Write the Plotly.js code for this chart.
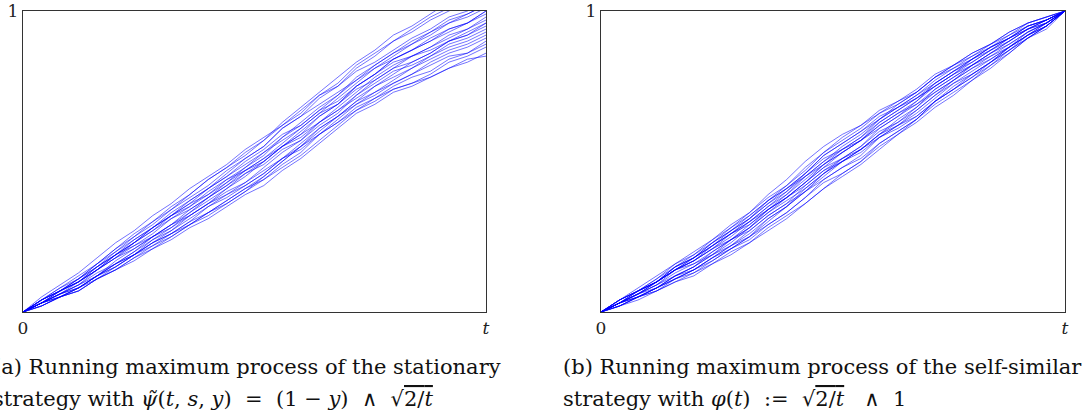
<!DOCTYPE html>
<html>
<head>
<meta charset="utf-8">
<script src="https://cdn.plot.ly/plotly-3.0.1.min.js"></script>
<style>
  html, body { margin: 0; padding: 0; background: #ffffff; }
  #chart { width: 1088px; height: 415px; }
</style>
</head>
<body>
<div id="chart"></div>
<script>
// time grid (in hundredths of the horizon t)
const tGrid = [0,4,8,12,16,20,24,28,32,36,40,44,48,52,56,60,64,68,72,76,80,84,88,92,96,100];

// (a) stationary strategy: running maximum paths (values in hundredths, axis top = 1)
const pathsA = [
  [0,5,9,13,18,23,27,32,36,41,45,49,54,58,62,66,72,76,82,86,90,94,98,101,104,107],
  [0,4,8,12,16,21,26,30,35,39,44,48,52,57,62,67,72,75,80,83,87,91,94,98,100,103],
  [0,4,7,11,16,20,25,29,34,38,42,47,51,55,61,65,69,73,77,82,86,89,93,96,99,102],
  [0,4,7,10,15,19,24,28,32,37,41,45,50,54,59,62,67,72,77,81,84,87,91,94,96,100],
  [0,3,7,10,14,19,23,27,32,36,39,43,48,52,58,62,67,70,75,79,84,87,90,93,96,99],
  [0,4,7,11,15,19,22,26,31,35,40,44,47,51,55,59,65,69,75,79,83,85,88,92,94,98],
  [0,3,6,10,14,18,23,27,31,34,38,42,47,51,56,61,66,69,74,77,81,85,88,91,94,97],
  [0,3,7,10,14,18,22,25,29,34,38,43,47,50,55,58,63,68,73,78,82,85,87,90,93,96],
  [0,3,6,9,14,18,21,25,29,32,36,41,45,50,55,59,63,67,72,77,81,83,86,90,92,95],
  [0,3,6,9,13,16,20,25,29,33,38,42,46,49,54,57,62,66,72,76,80,82,85,89,91,94],
  [0,3,5,8,12,17,21,25,28,32,36,39,43,48,53,57,63,67,71,75,78,81,85,88,90,93],
  [0,3,6,8,12,16,19,23,27,32,36,40,43,47,51,55,61,65,70,73,77,81,84,87,89,92],
  [0,2,5,8,11,15,19,22,26,30,35,39,42,46,51,54,59,64,69,72,76,79,83,86,88,91],
  [0,3,5,8,12,15,19,23,26,30,33,37,41,44,49,53,59,63,68,71,75,78,80,84,86,90],
  [0,2,5,7,11,14,18,22,25,29,33,36,40,44,48,52,57,62,67,70,74,76,79,83,85,88],
  [0,2,5,7,11,14,17,21,24,28,31,35,39,42,47,51,56,61,66,69,73,75,78,81,83,86],
  [0,3,6,8,12,16,19,23,26,29,33,37,41,45,50,55,59,63,67,71,74,76,78,81,84,85],
  [0,4,8,11,16,21,25,30,34,39,44,48,53,57,63,68,73,78,83,87,92,95,99,103,105,108],
  [0,4,7,11,15,20,24,28,33,37,41,46,51,55,61,65,71,75,81,85,90,93,97,100,103,106],
  [0,3,7,10,15,19,23,28,32,36,41,45,49,53,57,61,66,71,76,81,85,89,92,96,98,101],
  [0,2,5,8,12,15,19,24,28,33,37,41,46,50,55,60,65,69,75,79,84,87,90,94,96,100],
  [0,3,5,7,11,14,18,21,25,29,32,36,40,45,50,55,60,65,70,75,79,83,86,90,92,96],
  [0,3,6,9,12,16,20,24,27,31,35,38,42,46,51,56,61,65,69,73,76,79,82,85,86,89],
  [0,4,7,10,14,19,23,28,32,35,39,44,48,53,58,63,68,72,78,82,86,90,93,97,99,102]
];

// (b) self-similar strategy: running maximum paths (values in hundredths)
const pathsB = [
  [0,4,8,12,16,20,24,29,33,39,44,50,55,59,62,67,70,74,79,82,86,89,92,96,98,100],
  [0,4,7,11,16,19,24,28,33,38,42,48,53,58,62,66,70,73,78,82,85,89,93,96,98,100],
  [0,4,7,10,15,18,23,27,31,37,41,46,52,56,60,65,68,72,77,81,84,88,91,95,97,100],
  [0,3,7,10,14,18,22,26,31,36,40,46,51,54,58,64,68,71,76,80,84,87,91,94,97,100],
  [0,3,6,10,14,17,22,26,30,35,40,45,49,53,57,63,67,71,75,79,83,87,90,94,97,100],
  [0,4,7,10,14,17,21,26,30,34,38,43,49,53,57,61,65,70,75,79,82,86,90,94,96,100],
  [0,3,6,9,14,17,21,24,28,34,38,43,48,51,55,61,65,69,73,77,82,86,89,93,96,100],
  [0,3,6,9,13,16,19,23,28,33,37,41,46,51,55,60,63,67,72,77,81,85,88,92,96,100],
  [0,3,5,8,12,15,20,24,27,32,36,40,45,50,54,58,62,67,72,76,79,83,88,92,95,100],
  [0,3,5,8,11,14,18,22,25,30,35,40,44,48,52,58,62,65,70,74,79,83,87,92,95,100],
  [0,2,5,7,11,13,17,21,24,29,33,38,44,48,51,56,60,64,70,74,78,82,87,91,95,100],
  [0,2,5,7,10,13,16,20,23,28,32,36,41,46,50,55,59,64,69,73,77,82,86,91,95,100],
  [0,2,4,7,10,12,16,19,23,27,31,36,41,45,49,54,59,63,68,72,77,81,86,91,94,100],
  [0,3,7,10,15,18,23,27,32,37,41,45,50,55,59,64,69,73,78,81,85,88,92,95,97,100],
  [0,3,6,10,14,18,22,27,31,36,41,46,52,56,60,64,68,72,76,80,84,88,91,95,97,100],
  [0,3,6,9,12,15,19,24,28,33,38,43,48,53,57,62,66,69,74,78,82,86,90,94,96,100],
  [0,2,5,8,12,14,18,22,27,32,36,42,47,51,54,59,63,68,73,77,81,84,88,93,96,100],
  [0,3,5,8,11,14,17,21,25,29,33,38,43,46,50,56,60,64,70,75,79,83,88,92,95,100],
  [0,3,6,8,12,15,19,22,26,31,35,41,46,50,53,58,61,65,70,74,78,83,87,91,95,100],
  [0,4,7,10,15,18,22,26,29,34,39,44,49,54,58,63,67,71,75,79,84,88,91,95,97,100],
  [0,3,7,10,14,16,20,24,29,34,38,42,47,50,54,59,64,68,74,78,82,85,89,93,96,100],
  [0,2,5,8,11,14,18,21,25,31,35,40,46,50,54,59,62,66,71,76,80,84,88,92,96,100],
  [0,3,6,10,14,17,21,25,30,35,39,45,50,54,57,62,66,70,76,80,83,87,91,94,97,100],
  [0,4,7,11,15,19,23,28,32,37,42,47,53,57,61,66,69,73,78,82,86,89,93,96,98,100]
];

const xTickVals = [0, 100];
const xTickText = ['0', '<i>t</i>'];
const yTickVals = [100];
const yTickText = ['1'];

const lineStyle = { color: 'rgba(0,0,255,0.55)', width: 1 };
const traces = [];
pathsA.forEach(p => traces.push({
  type: 'scatter', mode: 'lines', x: tGrid, y: p, xaxis: 'x', yaxis: 'y',
  line: lineStyle, hoverinfo: 'skip', showlegend: false
}));
pathsB.forEach(p => traces.push({
  type: 'scatter', mode: 'lines', x: tGrid, y: p, xaxis: 'x2', yaxis: 'y2',
  line: lineStyle, hoverinfo: 'skip', showlegend: false
}));

const W = 1088, H = 415;
const tickFont = { family: 'DejaVu Serif, Liberation Serif, serif', size: 17, color: '#222' };
function xAx(l, r) {
  return {
    domain: [l / W, r / W], range: [0, 100], showline: true, mirror: true,
    linecolor: '#333', linewidth: 1.3, showgrid: false, zeroline: false,
    tickmode: 'array', tickvals: xTickVals, ticktext: xTickText, ticks: '',
    tickfont: tickFont, fixedrange: true
  };
}
function yAx(anchor) {
  return {
    domain: [(H - 312) / H, (H - 11) / H], range: [0, 100], showline: true, mirror: true,
    linecolor: '#333', linewidth: 1.3, showgrid: false, zeroline: false,
    tickmode: 'array', tickvals: yTickVals, ticktext: yTickText, ticks: '',
    tickfont: tickFont, anchor: anchor, fixedrange: true
  };
}
const capFont = { family: 'DejaVu Serif, Liberation Serif, serif', size: 21, color: '#111' };
function cap(px, py, text) {
  return { xref: 'paper', yref: 'paper', x: px / W, y: (H - py) / H, xanchor: 'left',
           yanchor: 'middle', showarrow: false, text: text, font: capFont, align: 'left' };
}
const layout = {
  width: W, height: H,
  margin: { l: 0, r: 0, t: 0, b: 0 },
  paper_bgcolor: '#ffffff', plot_bgcolor: '#ffffff',
  showlegend: false,
  xaxis: Object.assign(xAx(23, 486), { anchor: 'y' }),
  yaxis: yAx('x'),
  xaxis2: Object.assign(xAx(601, 1065), { anchor: 'y2' }),
  yaxis2: yAx('x2'),
  annotations: [
    cap(-9, 367, '(a) Running maximum process of the stationary'),
    cap(-9, 399, 'strategy with <i>ψ̃</i>(<i>t</i>, <i>s</i>, <i>y</i>)  =  (1 − <i>y</i>)  ∧  √<span style="text-decoration:overline">2/<i>t</i></span>'),
    cap(561, 367, '(b) Running maximum process of the self-similar'),
    cap(561, 399, 'strategy with <i>φ</i>(<i>t</i>)  :=  √<span style="text-decoration:overline">2/<i>t</i></span>   ∧  1')
  ]
};
Plotly.newPlot('chart', traces, layout, { staticPlot: true, displayModeBar: false });
</script>
</body>
</html>
